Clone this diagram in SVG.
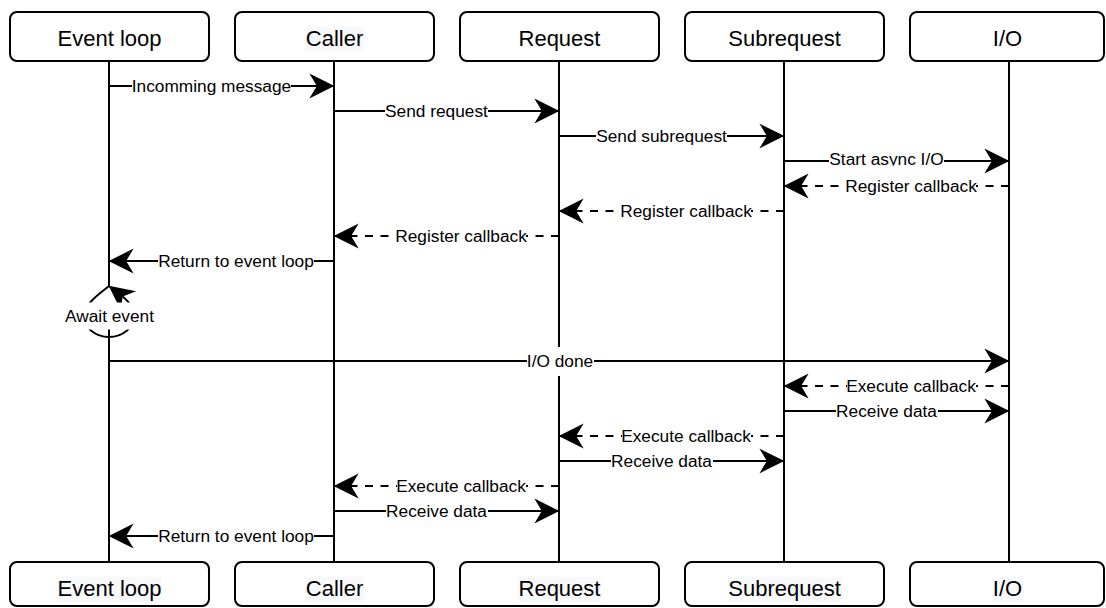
<svg xmlns="http://www.w3.org/2000/svg" width="1106" height="608" viewBox="0 0 1106 608">
  <style>
    .box { fill: #ffffff; stroke: #000000; stroke-width: 2; }
    .life { fill: none; stroke: #000000; stroke-width: 2; }
    .msg { fill: none; stroke: #000000; stroke-width: 2; marker-end: url(#arrow); }
    .ret { stroke-dasharray: 8 7.5; }
    .lbg { fill: #ffffff; }
    .tbg { fill: #f8f9fa; }
    .lbl { font-family: "Liberation Sans", Arial, Helvetica, sans-serif; font-size: 17.3px; fill: #000000; text-anchor: middle; }
    .ttl { font-family: "Liberation Sans", Arial, Helvetica, sans-serif; font-size: 22px; fill: #000000; text-anchor: middle; }
  </style>
  <defs>
    <!-- classic filled arrowhead, sized in user units -->
    <marker id="arrow" markerUnits="userSpaceOnUse" viewBox="-26 -14 30 28" refX="0" refY="0" markerWidth="30" markerHeight="28" orient="auto" overflow="visible">
      <path d="M-2,0 L-22,-10 L-16,0 L-22,10 Z" fill="#000000" stroke="#000000" stroke-width="2" stroke-dasharray="none" stroke-linejoin="miter" stroke-miterlimit="4"/>
    </marker>
    <clipPath id="clip-start-io">
      <rect x="780" y="140" width="230" height="25.5"/>
    </clipPath>
  </defs>

  <rect width="1106" height="608" fill="#ffffff"/>

  <!-- participants -->
  <g id="event-loop">
    <line class="life" x1="109" y1="62" x2="109" y2="286"/>
    <line class="life" x1="109" y1="329" x2="109" y2="561"/>
    <rect class="box" x="10" y="12" width="199" height="49" rx="7"/>
    <text class="ttl" x="109.5" y="45.5">Event loop</text>
    <rect class="box" x="10" y="562" width="199" height="44" rx="7"/>
    <rect class="tbg" x="57" y="577" width="105" height="25"/>
    <text class="ttl" x="109.5" y="596">Event loop</text>
  </g>

  <g id="caller">
    <line class="life" x1="334" y1="62" x2="334" y2="561"/>
    <rect class="box" x="235" y="12" width="199" height="49" rx="7"/>
    <rect class="tbg" x="305" y="26.5" width="59" height="25"/>
    <text class="ttl" x="334.5" y="45.5">Caller</text>
    <rect class="box" x="235" y="562" width="199" height="44" rx="7"/>
    <rect class="tbg" x="305" y="577" width="59" height="25"/>
    <text class="ttl" x="334.5" y="596">Caller</text>
  </g>

  <g id="request">
    <line class="life" x1="559" y1="62" x2="559" y2="561"/>
    <rect class="box" x="460" y="12" width="199" height="49" rx="7"/>
    <text class="ttl" x="559.5" y="45.5">Request</text>
    <rect class="box" x="460" y="562" width="199" height="44" rx="7"/>
    <rect class="tbg" x="518" y="577" width="83" height="25"/>
    <text class="ttl" x="559.5" y="596">Request</text>
  </g>

  <g id="subrequest">
    <line class="life" x1="784" y1="62" x2="784" y2="561"/>
    <rect class="box" x="685" y="12" width="199" height="49" rx="7"/>
    <text class="ttl" x="784.5" y="45.5">Subrequest</text>
    <rect class="box" x="685" y="562" width="199" height="44" rx="7"/>
    <rect class="tbg" x="728" y="577" width="114" height="25"/>
    <text class="ttl" x="784.5" y="596">Subrequest</text>
  </g>

  <g id="io">
    <line class="life" x1="1009" y1="62" x2="1009" y2="561"/>
    <rect class="box" x="910" y="12" width="194" height="49" rx="7"/>
    <text class="ttl" x="1007.5" y="45.5">I/O</text>
    <rect class="box" x="910" y="562" width="194" height="44" rx="7"/>
    <rect class="tbg" x="992" y="577" width="31" height="25"/>
    <text class="ttl" x="1007.5" y="596">I/O</text>
  </g>

  <!-- messages -->
  <g id="connectors">
    <g id="m-incoming">
      <line class="msg" x1="109" y1="86" x2="334" y2="86"/>
      <rect class="lbg" x="132" y="74" width="159" height="24"/>
      <text class="lbl" x="211.5" y="92">Incomming message</text>
    </g>
    <g id="m-send-request">
      <line class="msg" x1="334" y1="111" x2="559" y2="111"/>
      <rect class="lbg" x="385" y="99" width="103" height="24"/>
      <text class="lbl" x="436.5" y="117">Send request</text>
    </g>
    <g id="m-send-subrequest">
      <line class="msg" x1="559" y1="136" x2="784" y2="136"/>
      <rect class="lbg" x="596" y="124" width="131" height="24"/>
      <text class="lbl" x="661.5" y="142">Send subrequest</text>
    </g>
    <g id="m-start-io">
      <line class="msg" x1="784" y1="161" x2="1009" y2="161"/>
      <rect class="lbg" x="829" y="149" width="115" height="24"/>
      <text class="lbl" x="886.5" y="164.5" clip-path="url(#clip-start-io)">Start async I/O</text>
    </g>
    <g id="m-register-io">
      <line class="msg ret" x1="1009" y1="186" x2="784" y2="186"/>
      <rect class="lbg" x="846" y="174" width="130" height="24"/>
      <text class="lbl" x="911" y="192">Register callback</text>
    </g>
    <g id="m-register-sub">
      <line class="msg ret" x1="784" y1="211" x2="559" y2="211"/>
      <rect class="lbg" x="621" y="199" width="130" height="24"/>
      <text class="lbl" x="686" y="217">Register callback</text>
    </g>
    <g id="m-register-req">
      <line class="msg ret" x1="559" y1="236" x2="334" y2="236"/>
      <rect class="lbg" x="396" y="224" width="130" height="24"/>
      <text class="lbl" x="461" y="242">Register callback</text>
    </g>
    <g id="m-return-1">
      <line class="msg" x1="334" y1="261" x2="109" y2="261"/>
      <rect class="lbg" x="158" y="249" width="156" height="24"/>
      <text class="lbl" x="236" y="267">Return to event loop</text>
    </g>
    <g id="m-await">
      <path class="msg" d="M109,286 C99,294 86,303 84,314 C83,328 96,337 109,337 C122,337 135,328 134,314 C133,303 122,296 109,286"/>
      <rect class="lbg" x="63" y="302.5" width="93" height="27"/>
      <text class="lbl" x="109.5" y="321.5">Await event</text>
    </g>
    <g id="m-io-done">
      <line class="msg" x1="109" y1="361" x2="1009" y2="361"/>
      <rect class="lbg" x="527" y="347" width="67" height="29"/>
      <text class="lbl" x="560" y="367">I/O done</text>
    </g>
    <g id="m-exec-io">
      <line class="msg ret" x1="1009" y1="386" x2="784" y2="386"/>
      <rect class="lbg" x="847" y="374" width="129" height="24"/>
      <text class="lbl" x="911" y="392">Execute callback</text>
    </g>
    <g id="m-recv-io">
      <line class="msg" x1="784" y1="411" x2="1009" y2="411"/>
      <rect class="lbg" x="836" y="399" width="102" height="24"/>
      <text class="lbl" x="886.5" y="417">Receive data</text>
    </g>
    <g id="m-exec-sub">
      <line class="msg ret" x1="784" y1="436" x2="559" y2="436"/>
      <rect class="lbg" x="622" y="424" width="129" height="24"/>
      <text class="lbl" x="686" y="442">Execute callback</text>
    </g>
    <g id="m-recv-sub">
      <line class="msg" x1="559" y1="461" x2="784" y2="461"/>
      <rect class="lbg" x="611" y="449" width="102" height="24"/>
      <text class="lbl" x="661.5" y="467">Receive data</text>
    </g>
    <g id="m-exec-req">
      <line class="msg ret" x1="559" y1="486" x2="334" y2="486"/>
      <rect class="lbg" x="397" y="474" width="129" height="24"/>
      <text class="lbl" x="461" y="492">Execute callback</text>
    </g>
    <g id="m-recv-req">
      <line class="msg" x1="334" y1="511" x2="559" y2="511"/>
      <rect class="lbg" x="386" y="499" width="102" height="24"/>
      <text class="lbl" x="436.5" y="517">Receive data</text>
    </g>
    <g id="m-return-2">
      <line class="msg" x1="334" y1="536" x2="109" y2="536"/>
      <rect class="lbg" x="158" y="524" width="156" height="24"/>
      <text class="lbl" x="236" y="542">Return to event loop</text>
    </g>
  </g>
</svg>
